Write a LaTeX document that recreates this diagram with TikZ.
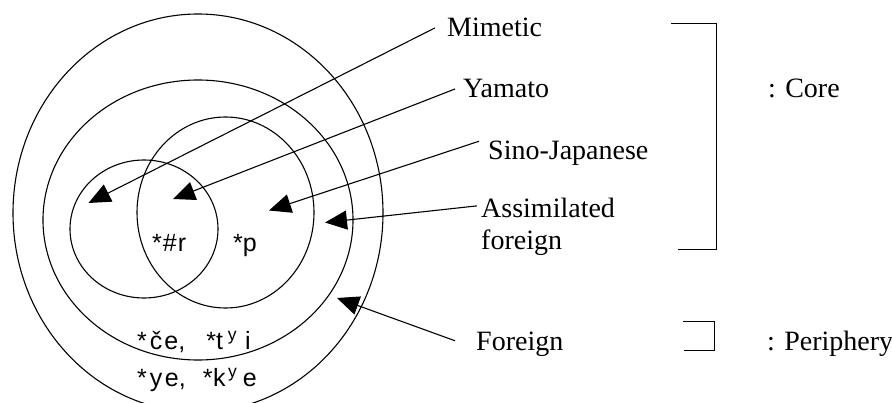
\documentclass[tikz,border=0pt]{standalone}
\usepackage{fontspec}
\setmainfont{Liberation Serif}
\setsansfont{Liberation Sans}
\usetikzlibrary{arrows.meta}
\begin{document}
\begin{tikzpicture}[x=1pt,y=-1pt,
  ring/.style={line width=1.1pt},
  lbl/.style={font=\fontsize{28}{32}\selectfont, inner sep=0pt, anchor=base west},
  snd/.style={font=\sffamily\fontsize{25}{28}\selectfont, inner sep=0pt, anchor=base west},
  ptr/.style={line width=1.1pt, -{Triangle[length=22pt,width=19pt]}},
  brk/.style={line width=1pt}]
\useasboundingbox (0,0) rectangle (892,403);
% rings
\draw[ring] (198,213) ellipse [x radius=185pt, y radius=199pt];
\draw[ring] (198,220) ellipse [x radius=155pt, y radius=140pt];
\draw[ring] (225.5,212.5) ellipse [x radius=88.5pt, y radius=95.5pt];
\draw[ring] (144,229) ellipse [x radius=74pt, y radius=69pt];
% sound labels
\node[snd] (hr) at (152,252) {*\hspace{1pt}\#\hspace{1pt}r};
\node[snd] (pp) at (233,252) {*p};
\node[snd] (ce) at (137,350) {*\hspace{3pt}č\hspace{2pt}e,\hspace{21pt}*t\hspace{5pt}\textsuperscript{y}\hspace{8pt}i};
\node[snd] (ye) at (137,387) {*\hspace{3pt}y\hspace{2.5pt}e,\hspace{17pt}*\hspace{0.5pt}k\hspace{2.5pt}\textsuperscript{y}\hspace{5.5pt}e};
% category labels
\node[lbl] (mim) at (447,37) {Mimetic};
\node[lbl] (yam) at (463,98) {Yamato};
\node[lbl] (sj) at (488,160) {Sino-Japanese};
\node[lbl, align=left] (asm) at (481,250) {Assimilated\\foreign};
\node[lbl] (for) at (476,351) {Foreign};
\node[lbl] (core) at (768,98) {: Core};
\node[lbl] (peri) at (767,351) {: Periphery};
% arrow tips
\coordinate (tM) at (88.5,203);
\coordinate (tY) at (173,199);
\coordinate (tS) at (269,210.5);
\coordinate (tA) at (325,222.5);
\coordinate (tF) at (337,298);
\draw[ptr] ([xshift=-12pt]mim.west) -- (tM);
\draw[ptr] ([xshift=-8pt]yam.west) -- (tY);
\draw[ptr] ([xshift=-9pt]sj.north west) -- (tS);
\draw[ptr] ([xshift=-4pt,yshift=-7.5pt]asm.north west) -- (tA);
\draw[ptr] ([xshift=-21pt,yshift=4pt]for.west) -- (tF);
% brackets
\draw[brk] (671,24) -- (716,24) -- (716,250) -- (678,250);
\draw[brk] (683,322) -- (714,322) -- (714,351) -- (684,351);
\end{tikzpicture}
\end{document}
